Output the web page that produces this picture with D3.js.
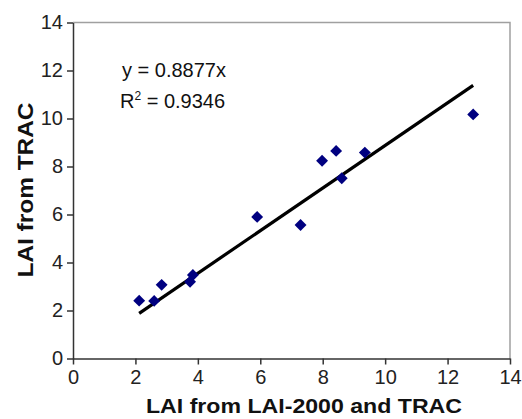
<!DOCTYPE html>
<html>
<head>
<meta charset="utf-8">
<script src="https://cdn.jsdelivr.net/npm/d3@7"></script>
<style>
  body { margin: 0; background: #fff; }
  svg { display: block; font-family: Arial, "Liberation Sans", sans-serif; }
</style>
</head>
<body>
<svg id="chart" width="522" height="419"></svg>
<script>
// LAI-2000 + TRAC (x) vs TRAC (y)
const laiRef = [2.12, 2.6, 2.84, 3.75, 3.84, 5.9, 7.29, 7.98, 8.43, 8.61, 9.35, 12.82];
const laiTrac = [2.41, 2.4, 3.07, 3.2, 3.48, 5.9, 5.56, 8.24, 8.65, 7.51, 8.58, 10.17];
const slope = 0.8877;
const rSquared = "0.9346";
const tickValues = [0, 2, 4, 6, 8, 10, 12, 14];

const svg = d3.select("#chart");
const x = d3.scaleLinear().domain([0, 14]).range([73, 510]);
const y = d3.scaleLinear().domain([0, 14]).range([358.5, 22.5]);

// grey frame on top/right
svg.append("path")
  .attr("d", `M${x(0)},${y(14)}H${x(14)}V${y(0)}`)
  .attr("fill", "none")
  .attr("stroke", "#a0a0a0")
  .attr("stroke-width", 1.5);

const xAxis = svg.append("g")
  .attr("transform", `translate(0,${y(0)})`)
  .call(d3.axisBottom(x).tickValues(tickValues).tickSize(6).tickPadding(5).tickSizeOuter(0));

const yAxis = svg.append("g")
  .attr("transform", `translate(${x(0)},0)`)
  .call(d3.axisLeft(y).tickValues(tickValues).tickSize(6).tickPadding(4).tickSizeOuter(0));

[xAxis, yAxis].forEach((g) => {
  g.select(".domain").attr("stroke", "#333").attr("stroke-width", 1.5);
  g.selectAll(".tick line").attr("stroke", "#333").attr("stroke-width", 1.5);
  g.selectAll(".tick text")
    .attr("fill", "#222")
    .style("font-size", "20px")
    .style("font-family", "Arial, 'Liberation Sans', sans-serif");
});

// regression line through origin, across the data range
const xExtent = d3.extent(laiRef);
svg.append("line")
  .attr("x1", x(xExtent[0]))
  .attr("y1", y(xExtent[0] * slope))
  .attr("x2", x(xExtent[1]))
  .attr("y2", y(xExtent[1] * slope))
  .attr("stroke", "#000")
  .attr("stroke-width", 3.2);

const points = laiRef.map((v, i) => ({ x: v, y: laiTrac[i] }));
svg.append("g")
  .selectAll("path")
  .data(points)
  .join("path")
  .attr("transform", (d) => `translate(${x(d.x)},${y(d.y)}) rotate(45)`)
  .attr("d", "M-4.2,-4.2H4.2V4.2H-4.2Z")
  .attr("fill", "#000080");

// equation
const eq = svg.append("g").attr("fill", "#111").style("font-size", "20px");
eq.append("text").attr("x", 122).attr("y", 77).text(`y = ${slope}x`);
const r2 = eq.append("text").attr("x", 120).attr("y", 108);
r2.append("tspan").text("R");
r2.append("tspan").attr("dy", -8).style("font-size", "12px").text("2");
r2.append("tspan").attr("dy", 8).text(` = ${rSquared}`);

// axis titles
svg.append("text")
  .attr("x", 304)
  .attr("y", 413)
  .attr("text-anchor", "middle")
  .attr("textLength", 316)
  .attr("lengthAdjust", "spacingAndGlyphs")
  .style("font-size", "20.5px")
  .style("font-weight", "bold")
  .attr("fill", "#111")
  .text("LAI from LAI-2000 and TRAC");

svg.append("text")
  .attr("transform", "translate(33,190) rotate(-90)")
  .attr("text-anchor", "middle")
  .attr("textLength", 175)
  .attr("lengthAdjust", "spacingAndGlyphs")
  .style("font-size", "22.5px")
  .style("font-weight", "bold")
  .attr("fill", "#111")
  .text("LAI from TRAC");
</script>
</body>
</html>
